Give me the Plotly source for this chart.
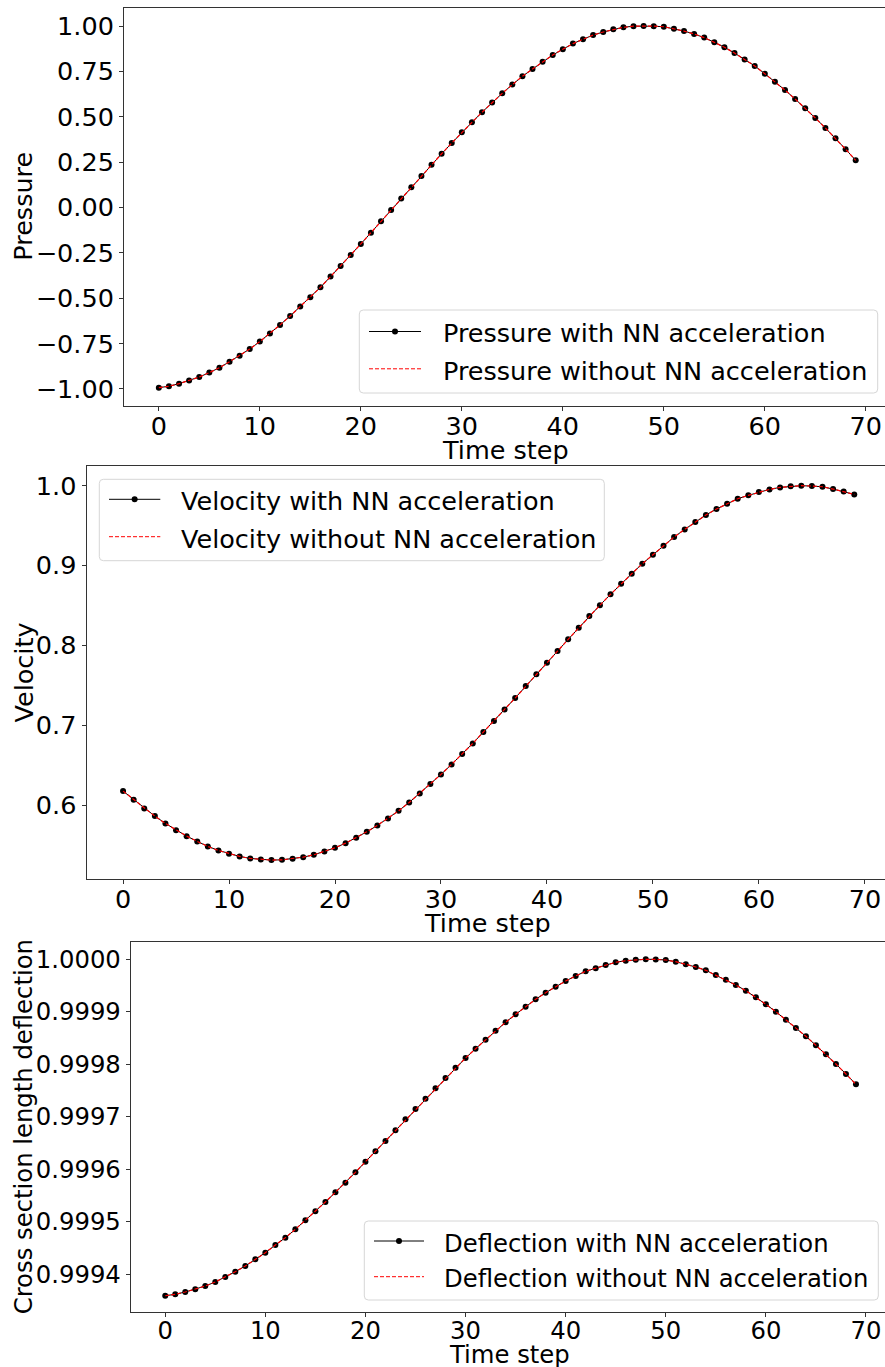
import plotly.graph_objects as go

# ---- data -------------------------------------------------------------
time_step = list(range(70))

pressure_nn = [
    -0.993, -0.985, -0.971, -0.954, -0.934, -0.910, -0.883, -0.850, -0.817, -0.780,
    -0.739, -0.695, -0.647, -0.598, -0.546, -0.495, -0.440, -0.381, -0.322, -0.262,
    -0.201, -0.139, -0.076, -0.014, 0.049, 0.111, 0.174, 0.236, 0.296, 0.355,
    0.414, 0.469, 0.525, 0.578, 0.629, 0.677, 0.723, 0.763, 0.803, 0.840,
    0.872, 0.903, 0.927, 0.950, 0.967, 0.982, 0.993, 0.999, 1.000, 0.999,
    0.996, 0.985, 0.972, 0.956, 0.936, 0.910, 0.883, 0.851, 0.816, 0.780,
    0.737, 0.693, 0.647, 0.598, 0.547, 0.493, 0.438, 0.381, 0.321, 0.260,
]
pressure_ref = list(pressure_nn)

velocity_nn = [
    0.6174, 0.6066, 0.5957, 0.5861, 0.5769, 0.5685, 0.5610, 0.5544, 0.5481, 0.5431,
    0.5389, 0.5356, 0.5331, 0.5318, 0.5310, 0.5313, 0.5326, 0.5347, 0.5376, 0.5418,
    0.5464, 0.5522, 0.5589, 0.5664, 0.5744, 0.5832, 0.5927, 0.6032, 0.6145, 0.6262,
    0.6383, 0.6509, 0.6638, 0.6772, 0.6914, 0.7051, 0.7198, 0.7340, 0.7490, 0.7637,
    0.7782, 0.7928, 0.8075, 0.8221, 0.8367, 0.8503, 0.8639, 0.8772, 0.8897, 0.9023,
    0.9135, 0.9248, 0.9357, 0.9453, 0.9545, 0.9633, 0.9708, 0.9774, 0.9837, 0.9879,
    0.9921, 0.9954, 0.9979, 0.9992, 1.0000, 0.9996, 0.9987, 0.9958, 0.9929, 0.9891,
]
velocity_ref = list(velocity_nn)

deflection_nn = [
    0.9993586, 0.9993613, 0.9993657, 0.9993708, 0.9993771, 0.9993847, 0.9993943, 0.9994044, 0.9994152, 0.9994280,
    0.9994406, 0.9994553, 0.9994692, 0.9994852, 0.9995024, 0.9995195, 0.9995373, 0.9995558, 0.9995741, 0.9995939,
    0.9996141, 0.9996339, 0.9996536, 0.9996740, 0.9996949, 0.9997146, 0.9997342, 0.9997540, 0.9997737, 0.9997933,
    0.9998118, 0.9998295, 0.9998467, 0.9998639, 0.9998799, 0.9998951, 0.9999096, 0.9999237, 0.9999363, 0.9999478,
    0.9999586, 0.9999682, 0.9999771, 0.9999831, 0.9999891, 0.9999943, 0.9999973, 0.9999992, 1.0000000, 0.9999998,
    0.9999987, 0.9999954, 0.9999905, 0.9999853, 0.9999790, 0.9999701, 0.9999611, 0.9999510, 0.9999401, 0.9999275,
    0.9999142, 0.9999001, 0.9998848, 0.9998690, 0.9998532, 0.9998360, 0.9998189, 0.9998004, 0.9997813, 0.9997617,
]
deflection_ref = list(deflection_nn)

x_ticks = [0, 10, 20, 30, 40, 50, 60, 70]
pressure_ticks = [-1.00, -0.75, -0.50, -0.25, 0.00, 0.25, 0.50, 0.75, 1.00]
velocity_ticks = [0.6, 0.7, 0.8, 0.9, 1.0]
deflection_ticks = [0.9994, 0.9995, 0.9996, 0.9997, 0.9998, 0.9999, 1.0000]

y_titles = ["Pressure", "Velocity", "Cross section length deflection"]
x_title = "Time step"
legend_labels = [
    ["Pressure with NN acceleration", "Pressure without NN acceleration"],
    ["Velocity with NN acceleration", "Velocity without NN acceleration"],
    ["Deflection with NN acceleration", "Deflection without NN acceleration"],
]

# ---- layout helpers ---------------------------------------------------
W, H = 885, 1367
FONT = "DejaVu Sans"
panel_font = [25.5, 25.5, 24.3]


def px(x):
    return x / W


def py(y):
    return 1 - y / H


fig = go.Figure()

series = [
    (pressure_nn, pressure_ref, "x", "y"),
    (velocity_nn, velocity_ref, "x2", "y2"),
    (deflection_nn, deflection_ref, "x3", "y3"),
]
for nn, ref, xa, ya in series:
    fig.add_trace(go.Scatter(
        x=time_step, y=nn, xaxis=xa, yaxis=ya, mode="lines+markers",
        line=dict(color="black", width=1),
        marker=dict(color="black", size=6, line=dict(width=0)),
        showlegend=False,
    ))
    fig.add_trace(go.Scatter(
        x=time_step, y=ref, xaxis=xa, yaxis=ya, mode="lines",
        line=dict(color="red", width=1.2, dash="4px,2px"),
        showlegend=False,
    ))

axis_common = dict(
    showline=True, linecolor="#333333", linewidth=1,
    ticks="outside", ticklen=4, tickwidth=1, tickcolor="#333333",
    showgrid=False, zeroline=False,
)

# panel placement in pixels: (left, top, bottom)
panels = [(124.0, 7.5, 406.0), (86.5, 466.0, 879.0), (130.7, 942.3, 1312.3)]
y_ranges = [[-1.094, 1.102], [0.5073, 1.0247], [0.999327, 1.0000324]]
y_tickvals = [pressure_ticks, velocity_ticks, deflection_ticks]
y_formats = [".2f", ".1f", ".4f"]

layout_axes = {}
for i, ((left, top, bottom), yr, tv, fmt, fs) in enumerate(
        zip(panels, y_ranges, y_tickvals, y_formats, panel_font)):
    sfx = "" if i == 0 else str(i + 1)
    tf = dict(family=FONT, size=fs, color="black")
    layout_axes["xaxis" + sfx] = dict(
        axis_common, domain=[px(left), 1.0], range=[-3.45, 71.9],
        tickvals=x_ticks, mirror=True, tickfont=tf, ticklabelstandoff=-7,
        anchor="y" + sfx,
    )
    layout_axes["yaxis" + sfx] = dict(
        axis_common, domain=[py(bottom), py(top)], range=yr,
        tickvals=tv, tickformat=fmt, mirror=False, tickfont=tf,
        anchor="x" + sfx,
    )

fig.update_layout(
    width=W, height=H,
    margin=dict(l=0, r=0, t=0, b=0),
    paper_bgcolor="white", plot_bgcolor="white",
    font=dict(family=FONT, size=24, color="black"),
    **layout_axes,
)

annotations = []
shapes = []

# axis titles
y_title_centers = [206.7, 672.5, 1127.3]
for title, yc, fs in zip(y_titles, y_title_centers, panel_font):
    annotations.append(dict(
        text=title, xref="paper", yref="paper", x=px(23), y=py(yc),
        xanchor="center", yanchor="middle", textangle=-90, showarrow=False,
        font=dict(family=FONT, size=fs, color="black"),
    ))
x_title_pos = [(505.8, 450.0), (487.5, 923.0), (509.2, 1354.2)]
for (xc, yc), fs in zip(x_title_pos, panel_font):
    annotations.append(dict(
        text=x_title, xref="paper", yref="paper", x=px(xc), y=py(yc),
        xanchor="center", yanchor="middle", showarrow=False,
        font=dict(family=FONT, size=fs, color="black"),
    ))


def rounded_box(x0, y0, x1, y1, r=4):
    rx, ry = r / W, r / H
    X0, X1 = px(x0), px(x1)
    Y0, Y1 = py(y0), py(y1)  # Y0 top, Y1 bottom
    return (
        f"M{X0 + rx},{Y0} L{X1 - rx},{Y0} Q{X1},{Y0} {X1},{Y0 - ry} "
        f"L{X1},{Y1 + ry} Q{X1},{Y1} {X1 - rx},{Y1} "
        f"L{X0 + rx},{Y1} Q{X0},{Y1} {X0},{Y1 + ry} "
        f"L{X0},{Y0 - ry} Q{X0},{Y0} {X0 + rx},{Y0} Z"
    )


# legend boxes: (box x0, y0, x1, y1, sample x0, x1, text x, row1 y, row2 y)
legend_geom = [
    (359.3, 310.0, 877.7, 393.0, 369.0, 421.0, 442.3, 331.5, 368.8),
    (99.3, 479.3, 604.3, 560.7, 109.0, 160.3, 180.0, 499.3, 536.7),
    (364.3, 1221.0, 878.3, 1300.0, 374.0, 424.0, 443.3, 1241.0, 1276.7),
]
for (bx0, by0, bx1, by1, sx0, sx1, tx, r1, r2), labels, fs in zip(legend_geom, legend_labels, panel_font):
    shapes.append(dict(
        type="path", xref="paper", yref="paper", path=rounded_box(bx0, by0, bx1, by1),
        line=dict(color="#d6d6d6", width=1), fillcolor="rgba(255,255,255,0.8)",
    ))
    shapes.append(dict(
        type="line", xref="paper", yref="paper",
        x0=px(sx0), x1=px(sx1), y0=py(r1), y1=py(r1),
        line=dict(color="black", width=1),
    ))
    mx = (sx0 + sx1) / 2
    shapes.append(dict(
        type="circle", xref="paper", yref="paper",
        x0=px(mx - 3), x1=px(mx + 3), y0=py(r1 + 3), y1=py(r1 - 3),
        line=dict(color="black", width=0), fillcolor="black",
    ))
    shapes.append(dict(
        type="line", xref="paper", yref="paper",
        x0=px(sx0), x1=px(sx1), y0=py(r2), y1=py(r2),
        line=dict(color="red", width=1, dash="4px,2px"),
    ))
    for lab, ry in zip(labels, (r1, r2)):
        annotations.append(dict(
            text=lab, xref="paper", yref="paper", x=px(tx - 1), y=py(ry + 2),
            xanchor="left", yanchor="middle", showarrow=False,
            font=dict(family=FONT, size=fs, color="black"),
        ))

fig.update_layout(annotations=annotations, shapes=shapes)
fig.write_html("out.html")
